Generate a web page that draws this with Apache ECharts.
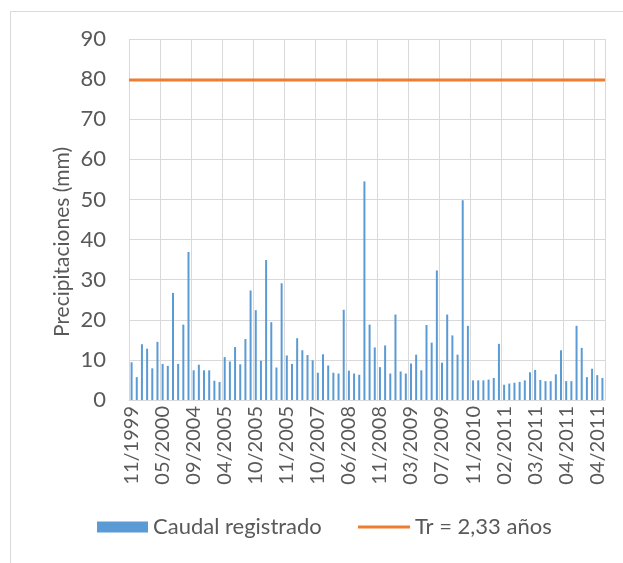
<!DOCTYPE html>
<html lang="es">
<head>
    <meta charset="UTF-8">
    <title>Precipitaciones</title>
    <script src="https://cdn.jsdelivr.net/npm/echarts@6/dist/echarts.min.js"></script>
    <style>
        html, body { margin: 0; padding: 0; background: #fff; }
        #chart { width: 623px; height: 563px; }
    </style>
</head>
<body>
<div id="chart"></div>
<script>
    // etiquetas del eje x (una cada 6 registros, el resto vacias)
    const tickLabels = ['11/1999', '05/2000', '09/2004', '04/2005', '10/2005', '11/2005', '10/2007', '06/2008',
        '11/2008', '03/2009', '07/2009', '11/2010', '02/2011', '03/2011', '04/2011', '04/2011'];

    // caudal registrado (mm)
    const caudal = [
        9.4, 5.7, 13.9, 12.8, 7.9, 14.5, 9.0, 8.5, 26.7, 9.0, 18.8, 36.9,
        7.4, 8.8, 7.4, 7.4, 4.8, 4.5, 10.7, 9.6, 13.2, 8.9, 15.2, 27.3,
        22.4, 9.8, 34.9, 19.4, 8.1, 29.1, 11.1, 9.0, 15.4, 12.4, 11.2, 9.9,
        6.8, 11.4, 8.6, 6.8, 6.6, 22.5, 7.3, 6.6, 6.3, 54.5, 18.8, 13.1,
        8.2, 13.6, 6.6, 21.3, 7.1, 6.6, 9.1, 11.3, 7.4, 18.7, 14.3, 32.3,
        9.3, 21.3, 16.1, 11.3, 49.8, 18.5, 4.9, 4.9, 4.9, 5.1, 5.5, 14.0,
        3.8, 4.1, 4.3, 4.5, 4.9, 6.9, 7.5, 5.0, 4.7, 4.7, 6.4, 12.4,
        4.7, 4.7, 18.5, 13.0, 5.7, 7.8, 6.2, 5.5
    ];

    // umbral Tr = 2,33 años (mm)
    const trValue = 79.8;

    const yTicks = [0, 10, 20, 30, 40, 50, 60, 70, 80, 90];

    let categories = [];
    for (let i = 0; i < caudal.length; i++) {
        categories.push(i % 6 === 0 ? tickLabels[i / 6] : '');
    }

    const font = 'Lato, "Open Sans", sans-serif';
    const grey = '#595959';
    const gridColor = '#d9d9d9';

    let myChart = echarts.init(document.getElementById('chart'), null, {renderer: 'canvas'});
    let option = {
        backgroundColor: '#fff',
        animation: false,
        textStyle: {fontFamily: font},
        graphic: [{
            type: 'rect',
            left: 8, top: 9,
            shape: {width: 700, height: 700},
            style: {fill: 'none', stroke: gridColor, lineWidth: 1}
        }, {
            // titulo del eje y
            type: 'text',
            x: 62, y: 242,
            rotation: Math.PI / 2,
            style: {
                text: 'Precipitaciones (mm)',
                fill: grey,
                font: '21px ' + font,
                align: 'center',
                verticalAlign: 'middle'
            }
        }],
        grid: {left: 129, top: 39, right: 18, bottom: 163},
        // dos leyendas: el icono de la linea es mas fino que el de las barras
        legend: [{
            left: 97, top: 516,
            padding: 0,
            itemWidth: 51, itemHeight: 11,
            textStyle: {fontSize: 22, color: grey, fontFamily: font},
            data: [{name: 'Caudal registrado', icon: 'rect'}]
        }, {
            left: 358, top: 516,
            padding: 0,
            itemWidth: 52, itemHeight: 3,
            textStyle: {fontSize: 22, color: grey, fontFamily: font},
            data: [{name: 'Tr = 2,33 años', icon: 'rect'}]
        }],
        xAxis: [{
            type: 'category',
            data: categories,
            boundaryGap: true,
            axisLine: {lineStyle: {color: gridColor, width: 1}},
            axisTick: {show: false},
            axisLabel: {
                interval: 5,
                rotate: 90,
                margin: 6,
                fontSize: 20,
                color: grey,
                fontFamily: font
            },
            splitLine: {show: true, interval: 5, lineStyle: {color: gridColor, width: 1}}
        }, {
            type: 'value',
            min: 0, max: 1,
            show: false
        }],
        yAxis: {
            type: 'value',
            min: yTicks[0],
            max: yTicks[yTicks.length - 1],
            interval: 10,
            axisLine: {show: false},
            axisTick: {show: false},
            axisLabel: {margin: 23, fontSize: 22, color: grey, fontFamily: font},
            splitLine: {lineStyle: {color: gridColor, width: 1}}
        },
        series: [{
            name: 'Caudal registrado',
            type: 'bar',
            xAxisIndex: 0,
            data: caudal,
            barWidth: 2,
            itemStyle: {color: '#5b9bd5'}
        }, {
            name: 'Tr = 2,33 años',
            type: 'line',
            xAxisIndex: 1,
            data: [[0, trValue], [1, trValue]],
            symbol: 'none',
            lineStyle: {color: '#ed7d31', width: 3},
            itemStyle: {color: '#ed7d31'}
        }]
    };

    myChart.setOption(option);
</script>
</body>
</html>
